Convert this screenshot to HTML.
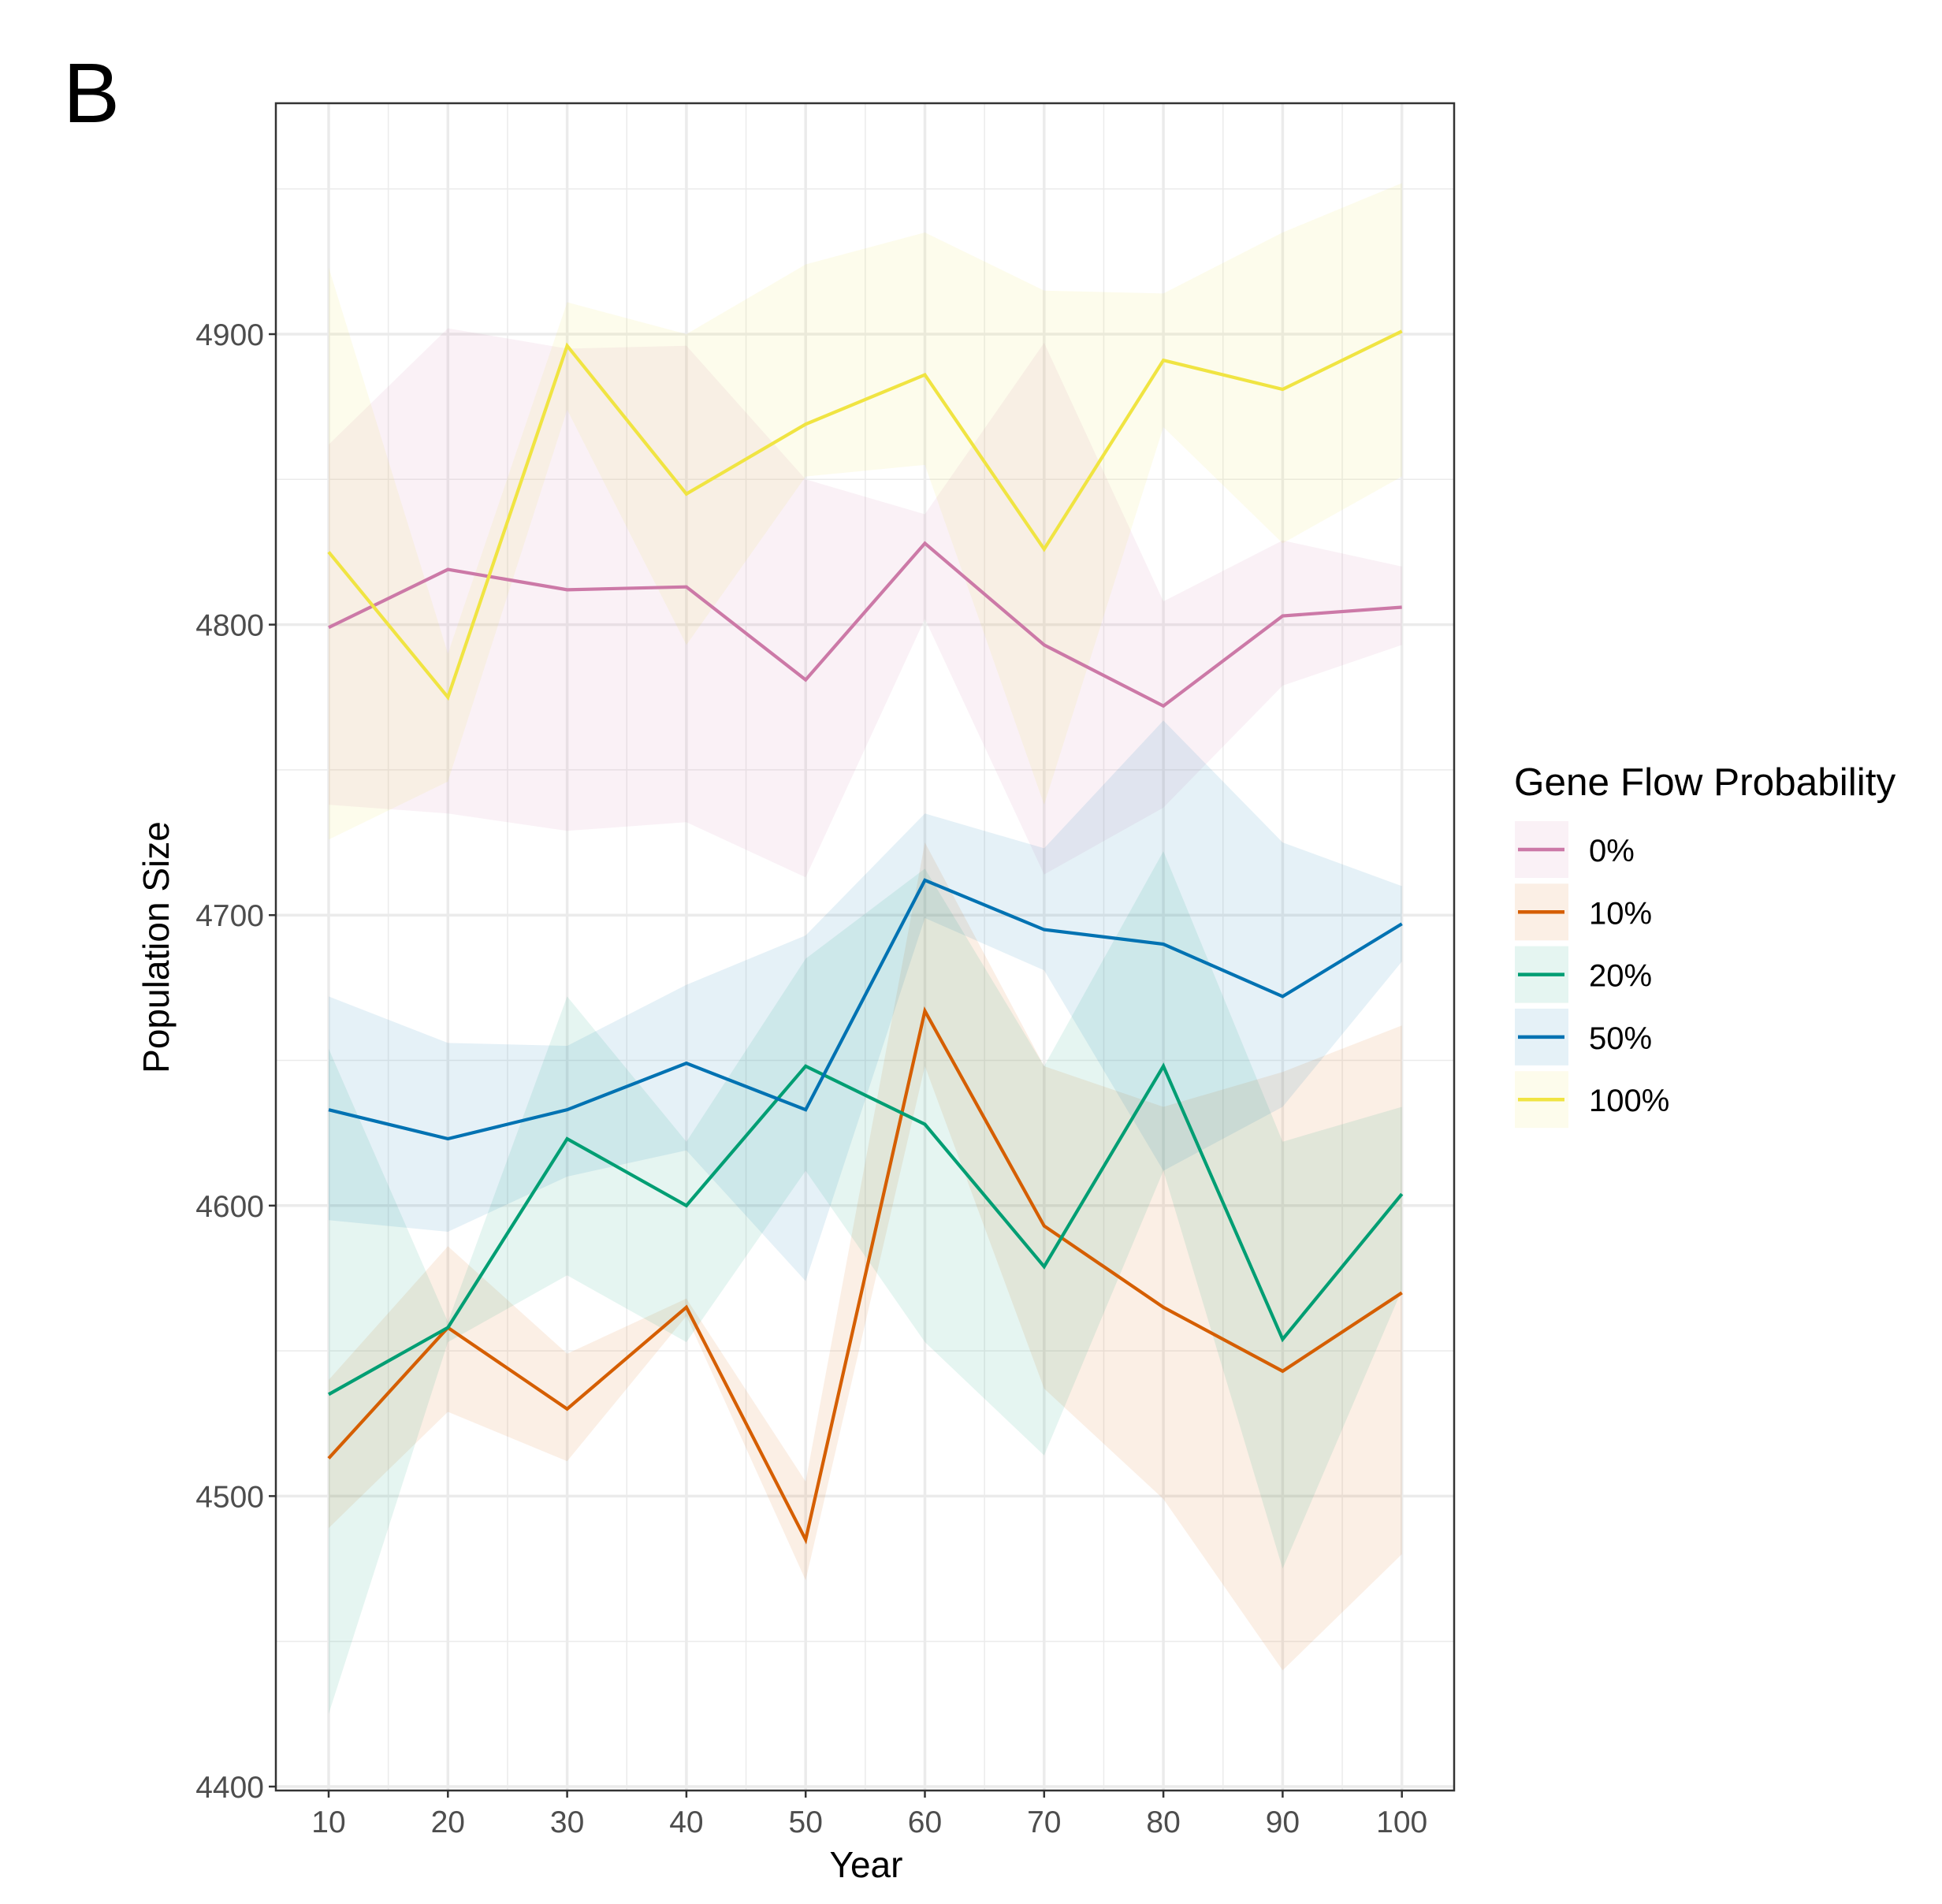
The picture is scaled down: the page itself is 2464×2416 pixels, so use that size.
<!DOCTYPE html>
<html><head><meta charset="utf-8"><style>
html,body{margin:0;padding:0;background:#fff;}
svg{display:block;font-family:"Liberation Sans",Arial,sans-serif;}
</style></head><body>
<svg id="chart" width="2464" height="2416" viewBox="0 0 2464 2416" xmlns="http://www.w3.org/2000/svg">
<rect width="2464" height="2416" fill="#fff"/>
<text x="80" y="155" font-size="108" fill="#000">B</text>
<g id="grid"></g>
<g id="ribbons"></g>
<g id="lines"></g>
<rect x="350" y="131" width="1495" height="2141" fill="none" stroke="#333" stroke-width="2.5"/>
<g id="axes"></g>
<text x="1099" y="2382" font-size="46" text-anchor="middle" fill="#000">Year</text>
<text transform="translate(214,1202) rotate(-90)" font-size="46" text-anchor="middle" fill="#000">Population Size</text>
<g id="legend"></g>
</svg>
<script>
const years=[10,20,30,40,50,60,70,80,90,100];
const seriesNames=["0%","10%","20%","50%","100%"];
const seriesColors=["#CC79A7","#D55E00","#009E73","#0072B2","#F0E442"];
const mean0=[4799,4819,4812,4813,4781,4828,4793,4772,4803,4806];
const upper0=[4862,4902,4895,4896,4850,4838,4897,4808,4829,4820];
const lower0=[4738,4735,4729,4732,4713,4802,4714,4737,4779,4793];
const mean10=[4513,4558,4530,4565,4485,4667,4593,4565,4543,4570];
const upper10=[4540,4586,4549,4568,4505,4725,4648,4634,4646,4662];
const lower10=[4489,4529,4512,4562,4471,4648,4537,4499,4440,4480];
const mean20=[4535,4558,4623,4600,4648,4628,4579,4648,4554,4604];
const upper20=[4654,4560,4672,4622,4685,4716,4648,4722,4622,4634];
const lower20=[4425,4553,4576,4553,4612,4553,4514,4612,4475,4571];
const mean50=[4633,4623,4633,4649,4633,4712,4695,4690,4672,4697];
const upper50=[4672,4656,4655,4676,4693,4735,4723,4767,4725,4710];
const lower50=[4595,4591,4610,4619,4574,4699,4681,4612,4634,4684];
const mean100=[4825,4775,4896,4845,4869,4886,4826,4891,4881,4901];
const upper100=[4923,4790,4911,4900,4924,4935,4915,4914,4935,4952];
const lower100=[4726,4746,4874,4793,4851,4855,4738,4868,4828,4851];
const yTicks=[4400,4500,4600,4700,4800,4900];
const xTicks=[10,20,30,40,50,60,70,80,90,100];

const means=[mean0,mean10,mean20,mean50,mean100];
const uppers=[upper0,upper10,upper20,upper50,upper100];
const lowers=[lower0,lower10,lower20,lower50,lower100];
const NS="http://www.w3.org/2000/svg";
const X0=350,X1=1845,Y0=131,Y1=2272;
function sx(v){return 417+(v-10)*15.13;}
function sy(v){return 2267-(v-4400)*3.686;}
function mk(tag,attrs,parent){const e=document.createElementNS(NS,tag);for(const k in attrs)e.setAttribute(k,attrs[k]);parent.appendChild(e);return e;}
const grid=document.getElementById('grid');
for(let v=4450;v<4980;v+=100){const l=mk('line',{x1:X0,x2:X1,y1:sy(v),y2:sy(v),stroke:'#ebebeb','stroke-width':1.5},grid);

}
for(let v=15;v<=100;v+=10){const l=mk('line',{x1:sx(v),x2:sx(v),y1:Y0,y2:Y1,stroke:'#ebebeb','stroke-width':1.5},grid);

}
yTicks.forEach(v=>{const l=mk('line',{x1:X0,x2:X1,y1:sy(v),y2:sy(v),stroke:'#ebebeb','stroke-width':3.5},grid);

});
xTicks.forEach(v=>{const l=mk('line',{x1:sx(v),x2:sx(v),y1:Y0,y2:Y1,stroke:'#ebebeb','stroke-width':3.5},grid);

});
const rib=document.getElementById('ribbons'),lin=document.getElementById('lines');
seriesNames.forEach((n,i)=>{
  let pts=years.map((y,j)=>sx(y)+','+sy(uppers[i][j]));
  for(let j=years.length-1;j>=0;j--)pts.push(sx(years[j])+','+sy(lowers[i][j]));
  const p=mk('polygon',{points:pts.join(' '),fill:seriesColors[i],'fill-opacity':0.1},rib);
  
  
  const l=mk('polyline',{points:years.map((y,j)=>sx(y)+','+sy(means[i][j])).join(' '),fill:'none',stroke:seriesColors[i],'stroke-width':4.2},lin);
  
  
});
const ax=document.getElementById('axes');
yTicks.forEach(v=>{const t=mk('line',{x1:X0-9,x2:X0,y1:sy(v),y2:sy(v),stroke:'#333','stroke-width':2.5},ax);


const tx=mk('text',{x:X0-15,y:sy(v)+14,'font-size':39,'text-anchor':'end',fill:'#4d4d4d'},ax);tx.textContent=v;

});
xTicks.forEach(v=>{const t=mk('line',{x1:sx(v),x2:sx(v),y1:Y1,y2:Y1+9,stroke:'#333','stroke-width':2.5},ax);


const tx=mk('text',{x:sx(v),y:2325,'font-size':39,'text-anchor':'middle',fill:'#4d4d4d'},ax);tx.textContent=v;

});
const lg=document.getElementById('legend');
const lt=mk('text',{x:1921,y:1009,'font-size':49.5,fill:'#000'},lg);lt.textContent='Gene Flow Probability';


seriesNames.forEach((n,i)=>{const y=1042+i*79.3;
  const g=mk('g',{},lg);
  
  
  mk('rect',{x:1922,y:y,width:68,height:72,fill:seriesColors[i],'fill-opacity':0.1},g);
  mk('line',{x1:1926,x2:1985,y1:y+36,y2:y+36,stroke:seriesColors[i],'stroke-width':4.5},g);
  const t=mk('text',{x:2016,y:y+51,'font-size':40,fill:'#000'},g);t.textContent=n;});
</script>
</body></html>
